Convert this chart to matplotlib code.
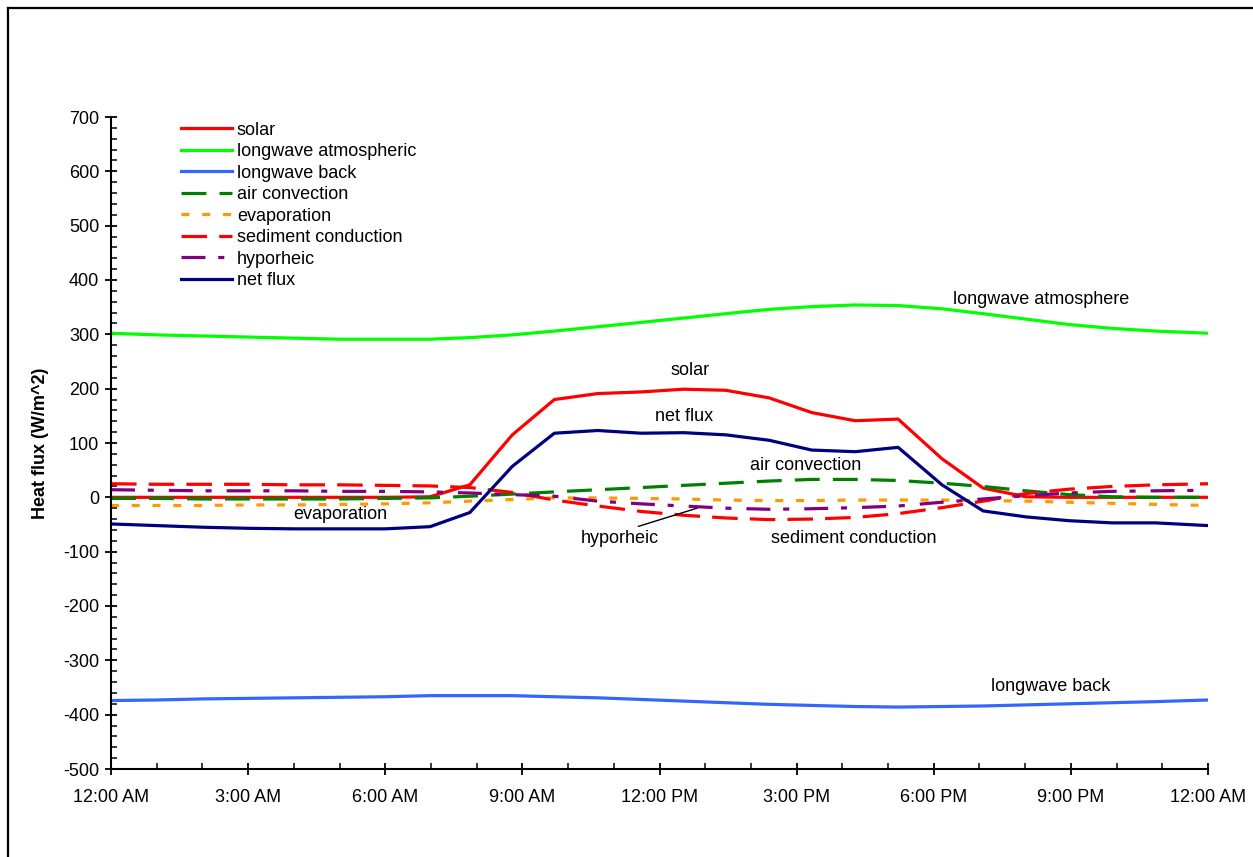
import matplotlib
matplotlib.use("Agg")
import matplotlib.pyplot as plt
from matplotlib.lines import Line2D
from matplotlib.ticker import MultipleLocator

plt.rcParams['font.family'] = ['Liberation Sans', 'DejaVu Sans']
plt.rcParams['axes.unicode_minus'] = False

# hours after midnight for each record
hours = [0, 1, 2, 3, 4, 5, 6, 6.98, 7.85, 8.78, 9.7, 10.65, 11.6, 12.53, 13.45,
         14.4, 15.33, 16.28, 17.22, 18.18, 19.08, 20.02, 20.96, 21.9, 22.85, 24]

solar = [0, 0, 0, 0, 0, 0, 0, 1, 23, 115, 180, 191, 194, 199, 197,
         183, 156, 141, 144, 71, 17, 1, 0, 0, 0, 0]
longwave_atm = [302, 299, 297, 295, 293, 291, 291, 291, 294, 299, 306, 314, 322, 330, 338,
                346, 351, 354, 353, 347, 338, 328, 318, 311, 306, 302]
longwave_back = [-374, -373, -371, -370, -369, -368, -367, -365, -365, -365, -367, -369, -372, -375, -378,
                 -381, -383, -385, -386, -385, -384, -382, -380, -378, -376, -373]
air_convection = [-2, -2, -3, -3, -3, -3, -2, -1, 2, 6, 10, 14, 18, 22, 26,
                  30, 33, 33, 31, 26, 20, 12, 5, 1, 0, 0]
evaporation = [-15, -15, -15, -14, -14, -13, -12, -10, -7, -4, -1, -1, -2, -3, -5,
               -6, -6, -5, -5, -5, -6, -7, -9, -11, -13, -15]
sediment = [25, 24, 24, 24, 23, 23, 22, 21, 18, 9, -5, -16, -26, -33, -38,
            -41, -40, -37, -30, -19, -7, 7, 15, 20, 23, 25]
hyporheic = [14, 13, 12, 12, 12, 11, 11, 10, 8, 5, 2, -7, -12, -16, -20,
             -22, -21, -19, -16, -9, -3, 3, 8, 11, 12, 13]
net_flux = [-49, -52, -55, -57, -58, -58, -58, -54, -28, 57, 118, 123, 118, 119, 115,
            105, 87, 84, 92, 23, -25, -36, -43, -47, -47, -52]

tick_hours = [0, 3, 6, 9, 12, 15, 18, 21, 24]
tick_labels = ['12:00 AM', '3:00 AM', '6:00 AM', '9:00 AM', '12:00 PM',
               '3:00 PM', '6:00 PM', '9:00 PM', '12:00 AM']

fig = plt.figure(figsize=(12.53, 8.57), dpi=100)
ax = fig.add_axes([111 / 1253, 1 - 769 / 857, 1097 / 1253, 652 / 857])

lw = 2.3
ax.plot(hours, solar, color='#ff0000', lw=lw, label='solar')
ax.plot(hours, longwave_atm, color='#00ff00', lw=lw, label='longwave atmospheric')
ax.plot(hours, longwave_back, color='#3366ff', lw=lw, label='longwave back')
ax.plot(hours, air_convection, color='#008000', lw=lw, ls=(0, (7.8, 4.1)), label='air convection')
ax.plot(hours, evaporation, color='#ff9900', lw=lw, ls=(0, (2.5, 4.0)), label='evaporation')
ax.plot(hours, sediment, color='#ff0000', lw=lw, ls=(0, (8.0, 3.8)), label='sediment conduction')
ax.plot(hours, hyporheic, color='#800080', lw=lw, ls=(0, (7.5, 4.0, 1.9, 4.7)), label='hyporheic')
ax.plot(hours, net_flux, color='#000080', lw=lw, label='net flux')

ax.set_xlim(0, 24)
ax.set_ylim(-500, 700)
ax.set_xticks(tick_hours)
ax.set_xticklabels(tick_labels)
ax.xaxis.set_minor_locator(MultipleLocator(1))
ax.yaxis.set_major_locator(MultipleLocator(100))
ax.yaxis.set_minor_locator(MultipleLocator(20))

ax.spines['top'].set_visible(False)
ax.spines['right'].set_visible(False)
for s in ('left', 'bottom'):
    ax.spines[s].set_linewidth(1.5)

fs = 13
ax.tick_params(which='major', direction='inout', length=9, width=1.3, labelsize=fs)
ax.tick_params(axis='y', which='major', pad=4)
ax.tick_params(axis='x', which='major', pad=10)
ax.tick_params(which='minor', direction='in', length=4, width=1.1)

ax.set_ylabel('Heat flux (W/m^2)', fontsize=fs, fontweight='bold')
ax.yaxis.set_label_coords(-0.0565, 0.5)

leg = ax.legend(loc='upper left', bbox_to_anchor=(0.0638, 0.993), frameon=False,
                fontsize=fs, borderpad=0, borderaxespad=0, labelspacing=0.25,
                handlelength=2.8, handletextpad=0.3)

ax.text(20.35, 365, 'longwave atmosphere', ha='center', va='center', fontsize=fs)
ax.text(12.67, 234, 'solar', ha='center', va='center', fontsize=fs)
ax.text(12.54, 148, 'net flux', ha='center', va='center', fontsize=fs)
ax.text(15.19, 58, 'air convection', ha='center', va='center', fontsize=fs)
ax.text(5.01, -31, 'evaporation', ha='center', va='center', fontsize=fs)
ax.text(16.24, -75, 'sediment conduction', ha='center', va='center', fontsize=fs)
ax.text(20.55, -349, 'longwave back', ha='center', va='center', fontsize=fs)
ax.annotate('hyporheic', xy=(12.82, -20), xytext=(11.14, -75), ha='center', va='center',
            fontsize=fs,
            arrowprops=dict(arrowstyle='-', color='black', lw=1.0,
                            relpos=(0.6, 1.0), shrinkA=1, shrinkB=0))

# outer frame (left and top edges visible in the original)
fig.add_artist(Line2D([8 / 1253, 8 / 1253], [0, 1 - 8 / 857], color='black', lw=1.6,
                      transform=fig.transFigure))
fig.add_artist(Line2D([8 / 1253, 1], [1 - 8 / 857, 1 - 8 / 857], color='black', lw=1.6,
                      transform=fig.transFigure))

fig.savefig('out.png', dpi=100)
